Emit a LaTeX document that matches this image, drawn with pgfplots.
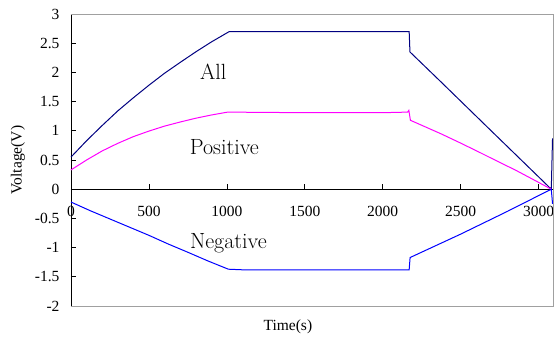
\documentclass[border=0pt]{standalone}
\usepackage{fontspec}
\newfontfamily\tnr{Liberation Serif}
\usepackage{pgfplots}
\pgfplotsset{compat=1.18}
\definecolor{navyc}{RGB}{0,0,128}
\definecolor{magc}{RGB}{255,0,255}
\definecolor{bluec}{RGB}{0,0,255}
\definecolor{framegray}{RGB}{160,160,160}
\begin{document}
\begin{tikzpicture}
\begin{axis}[
  scale only axis, width=482pt, height=292pt,
  xmin=0, xmax=3093, ymin=-2, ymax=3,
  axis x line=middle, axis y line=left,
  axis line style={-, black, line width=0.8pt},
  xtick={0,500,...,3000}, ytick={-2,-1.5,...,3},
  hide obscured x ticks=false,
  tick align=inside,
  major tick length=5pt,
  tick style={black, line width=0.6pt},
  /pgf/number format/assume math mode=true,
  /pgf/number format/1000 sep={},
  ticklabel style={font=\tnr\fontsize{15.5}{18}\selectfont},
  yticklabel style={/pgf/number format/fixed, xshift=-8pt},
  xticklabel style={yshift=-13pt},
  ylabel={Voltage(V)},
  ylabel style={font=\tnr\fontsize{15.5}{18}\selectfont, at={(axis description cs:-0.110,0.5)}, anchor=center},
  clip=false,
]
\addplot[navyc, line width=1pt] coordinates {
(0,0.55) (100,0.83) (200,1.09) (300,1.34) (400,1.565) (500,1.78) (600,1.985) (700,2.17)
(800,2.35) (900,2.52) (1016,2.70)
(2170,2.70) (2175,2.35) (2373,1.84) (2700,0.99) (3082,0.00) (3090,0.87)};
\addplot[magc, line width=1pt] coordinates {
(0,0.33) (100,0.50) (200,0.655) (300,0.785) (400,0.90) (500,0.995) (600,1.08) (700,1.15)
(800,1.215) (900,1.27) (1005,1.32) (1500,1.31) (2000,1.31)
(2160,1.32) (2168,1.35) (2178,1.18) (2373,0.95) (2500,0.79) (2630,0.62) (2750,0.46)
(2850,0.33) (2970,0.16) (3082,0.00)};
\addplot[bluec, line width=1pt] coordinates {
(0,-0.22) (125,-0.37) (250,-0.51) (375,-0.65) (500,-0.79) (625,-0.94) (750,-1.08) (880,-1.23) (1010,-1.37) (1100,-1.38) (2170,-1.38)
(2176,-1.17) (2500,-0.77) (2800,-0.38) (3082,0.00) (3090,-0.25)};
\draw[framegray, line width=0.8pt] (rel axis cs:0,1) -- (rel axis cs:1,1) -- (rel axis cs:1,0) -- (rel axis cs:0,0);
\node[anchor=base, font=\fontsize{22}{26}\selectfont] at (axis cs:913,1.87) {All};
\node[anchor=base, font=\fontsize{22}{26}\selectfont] at (axis cs:984,0.60) {Positive};
\node[anchor=base, font=\fontsize{22}{26}\selectfont] at (axis cs:1010,-1.01) {Negative};
\node[anchor=center, font=\tnr\fontsize{15.5}{18}\selectfont] at (axis description cs:0.45,-0.072) {Time(s)};
\coordinate (bl) at (rel axis cs:0,0);
\coordinate (tr) at (rel axis cs:1,1);
\end{axis}
\pgfresetboundingbox
\path ([shift={(-71pt,-39pt)}]bl) rectangle ([shift={(1pt,14pt)}]tr);
\end{tikzpicture}
\end{document}
